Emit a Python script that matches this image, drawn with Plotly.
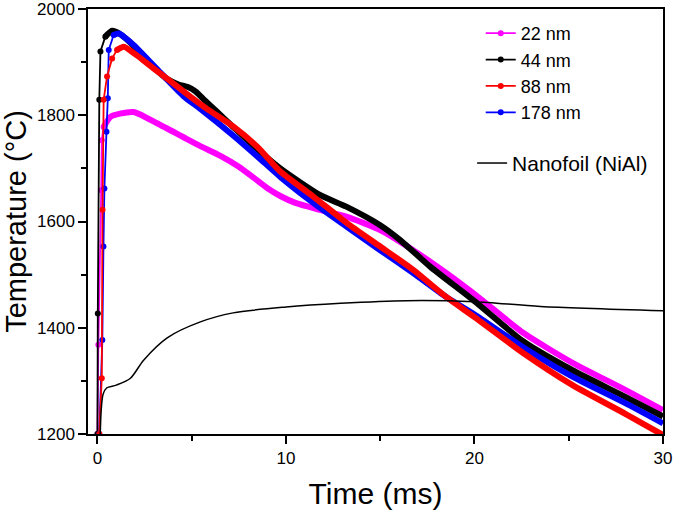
import plotly.graph_objects as go

# ---------------- data ----------------
t_22 = [0.0, 0.05, 0.2, 0.23, 0.33, 0.69, 1.2, 1.92, 3.16, 4.5, 5.46, 6.5, 7.5, 8.3, 9.0, 9.7, 10.5,
        11.8, 13.2, 15.0, 16.75, 18.5, 20.3, 22.6, 25.2, 28.0, 30.0]
T_22 = [1200, 1368, 1659, 1753, 1778, 1797, 1803, 1806, 1785, 1760, 1742, 1724, 1703, 1682, 1663, 1648, 1635,
        1622, 1609, 1584, 1546, 1503, 1455, 1390, 1334, 1283, 1245]

t_44 = [0.0, 0.02, 0.1, 0.16, 0.42, 0.78, 1.2, 1.93, 2.6, 3.16, 3.7, 4.3, 4.8, 5.2, 5.7, 6.3, 7.2,
        8.2, 9.7, 11.8, 13.2, 15.0, 16.06, 17.65, 20.0, 22.6, 25.2, 28.0, 30.0]
T_44 = [1200, 1427, 1829, 1920, 1948, 1959, 1953, 1930, 1903, 1884, 1868, 1858, 1853, 1845, 1828, 1808, 1778,
        1745, 1700, 1650, 1628, 1593, 1565, 1515, 1450, 1374, 1320, 1270, 1233]

t_88 = [0.1, 0.23, 0.27, 0.33, 0.51, 0.78, 1.04, 1.4, 2.0, 2.45, 3.06, 3.69, 4.82, 5.81, 7.2, 8.5, 9.7,
        11.45, 13.23, 15.0, 16.75, 18.5, 20.0, 22.6, 25.2, 28.0, 30.0]
T_88 = [1200, 1305, 1622, 1829, 1873, 1907, 1923, 1929, 1915, 1903, 1886, 1869, 1838, 1812, 1779, 1740, 1694,
        1647, 1597, 1553, 1509, 1458, 1420, 1352, 1292, 1238, 1198]

t_178 = [0.1, 0.26, 0.32, 0.37, 0.48, 0.55, 0.6, 0.86, 1.13, 1.93, 3.16, 4.57, 5.46, 7.2, 8.5,
         9.7, 11.45, 13.23, 15.0, 16.75, 18.5, 20.0, 22.6, 25.2, 28.0, 30.0]
T_178 = [1200, 1377, 1553, 1662, 1769, 1832, 1923, 1951, 1954, 1932, 1887, 1836, 1812, 1762, 1722,
         1684, 1635, 1590, 1546, 1503, 1458, 1425, 1363, 1308, 1258, 1220]

t_foil = [0.15, 0.2, 0.3, 0.5, 1.0, 1.75, 2.45, 3.7, 5.46, 7.2, 10.0, 12.9, 16.4, 20.0, 23.5, 30.0]
T_foil = [1200, 1245, 1275, 1287, 1292, 1305, 1339, 1381, 1411, 1428, 1439, 1446, 1451, 1449, 1440, 1432]

# number of points in the sparse (rising) part of each measured curve
rise_22, rise_44, rise_88, rise_178 = 5, 5, 7, 8

series = [
    ("22 nm", t_22, T_22, rise_22, "#FF00FF", 1),
    ("44 nm", t_44, T_44, rise_44, "#000000", 2),
    ("178 nm", t_178, T_178, rise_178, "#0000FF", 4),
    ("88 nm", t_88, T_88, rise_88, "#FF0000", 3),
]

FONT = "Arial, 'Liberation Sans', sans-serif"

fig = go.Figure()
for name, t, T, n, col, rank in series:
    # thick dense part
    fig.add_trace(go.Scatter(
        x=t[n - 1:], y=T[n - 1:], mode="lines", name=name, legendgroup=name,
        showlegend=False, line=dict(color=col, width=6, shape="spline", smoothing=0.6),
        hoverinfo="skip"))
    # sparse rising part (line + dots) -> legend entry
    fig.add_trace(go.Scatter(
        x=t[:n], y=T[:n], mode="lines+markers", name=name, legendgroup=name,
        legendrank=rank, line=dict(color=col, width=1.8),
        marker=dict(color=col, size=6)))

fig.add_trace(go.Scatter(
    x=t_foil, y=T_foil, mode="lines", name="Nanofoil (NiAl)", legend="legend2",
    line=dict(color="#000000", width=1.5, shape="spline", smoothing=0.8)))

axis_common = dict(
    showline=True, linecolor="black", linewidth=1.5, mirror=True,
    ticks="outside", ticklen=8, tickwidth=1.5, tickcolor="black",
    showgrid=False, zeroline=False, automargin=False, ticklabeloverflow="allow",
    tickfont=dict(family=FONT, size=17, color="black"),
)

fig.update_layout(
    width=675, height=514,
    margin=dict(l=88, r=12, t=9, b=80),
    paper_bgcolor="white", plot_bgcolor="white",
    font=dict(family=FONT, color="black"),
    xaxis=dict(range=[-0.5, 30], tickvals=[0, 10, 20, 30],
               minor=dict(tickvals=[5, 15, 25], ticks="outside", ticklen=5,
                          tickwidth=1.5, tickcolor="black"),
               title=dict(text="Time (ms)", font=dict(family=FONT, size=30), standoff=16),
               **axis_common),
    yaxis=dict(range=[1200, 2000], tickvals=[1200, 1400, 1600, 1800, 2000],
               minor=dict(tickvals=[1300, 1500, 1700, 1900], ticks="outside", ticklen=5,
                          tickwidth=1.5, tickcolor="black"),
               title=dict(text="Temperature (°C)", font=dict(family=FONT, size=29), standoff=9),
               **axis_common),
    legend=dict(x=0.683, y=0.986, xanchor="left", yanchor="top",
                bgcolor="rgba(0,0,0,0)", font=dict(family=FONT, size=18),
                traceorder="normal", tracegroupgap=0),
    legend2=dict(x=0.668, y=0.685, xanchor="left", yanchor="top",
                 bgcolor="rgba(0,0,0,0)", font=dict(family=FONT, size=21)),
)

fig.write_html("out.html", config={"displayModeBar": False},
               post_script="document.body.style.margin='0';")
